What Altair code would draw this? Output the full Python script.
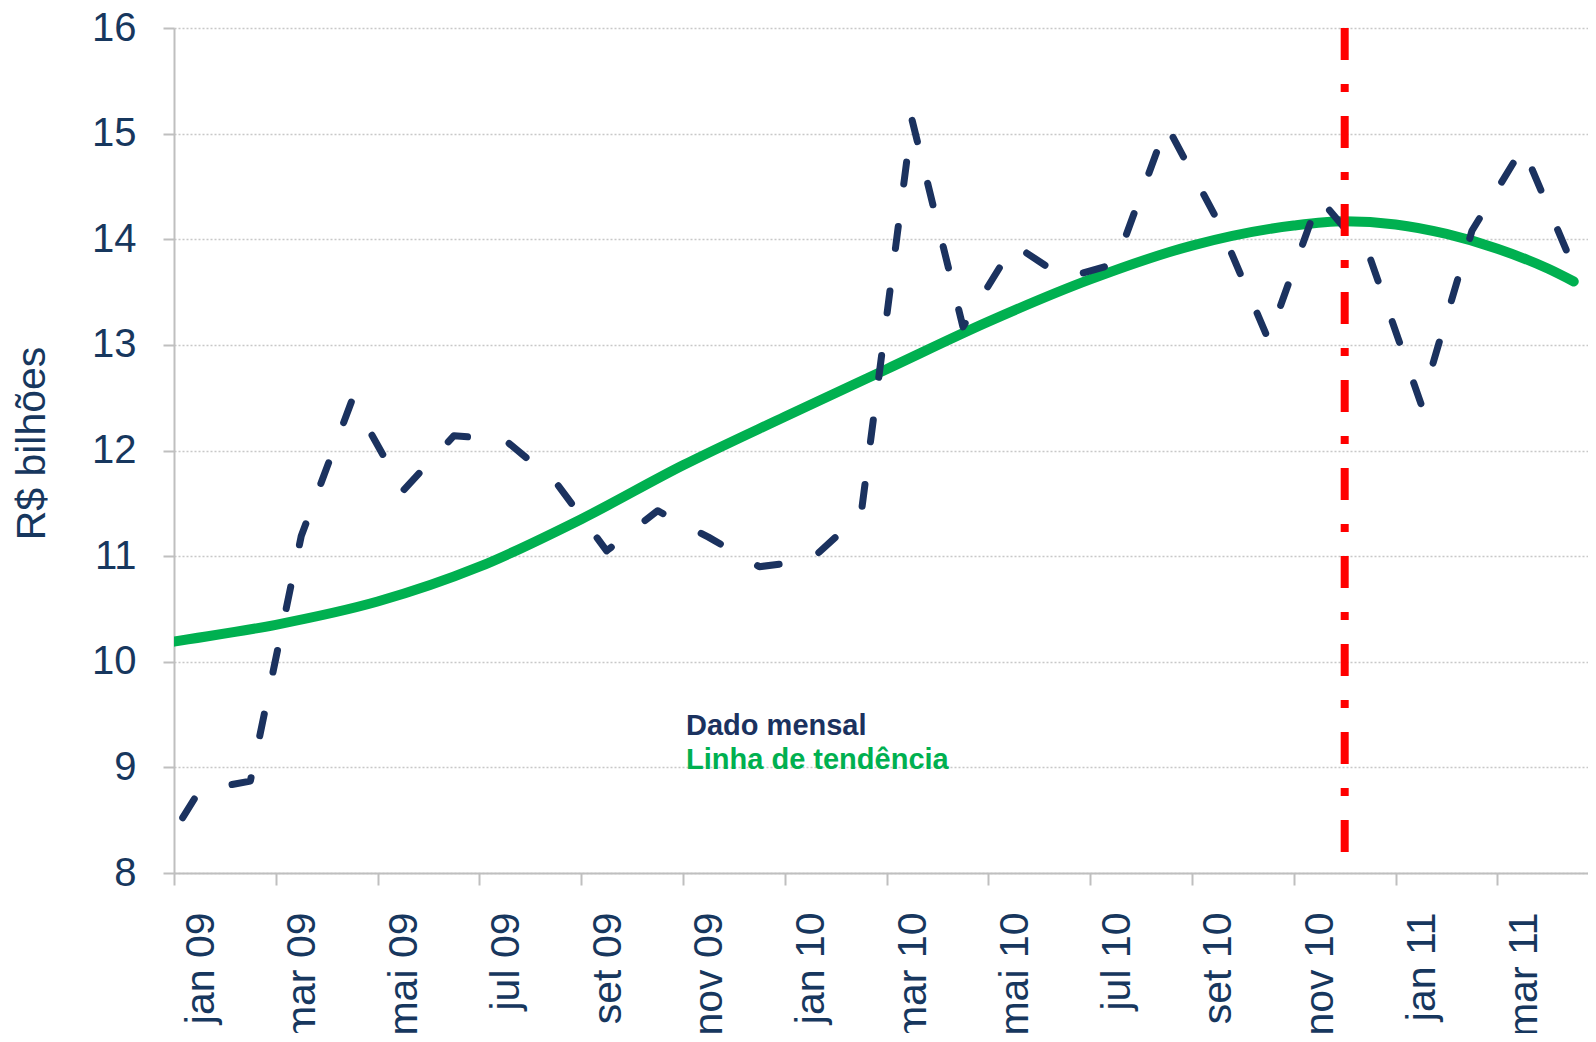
import json
import altair as alt
import pandas as pd

# ---------------- data ----------------
# Monthly series (dez 08 lies just left of the axis and is clipped, as in the original)
months = ["dez 08", "jan 09", "fev 09", "mar 09", "abr 09", "mai 09", "jun 09", "jul 09",
          "ago 09", "set 09", "out 09", "nov 09", "dez 09", "jan 10", "fev 10", "mar 10",
          "abr 10", "mai 10", "jun 10", "jul 10", "ago 10", "set 10", "out 10", "nov 10",
          "dez 10", "jan 11", "fev 11", "mar 11", "abr 11"]
monthly = [8.00, 8.78, 8.87, 11.19, 12.48, 11.62, 12.14, 12.10,
           11.70, 11.05, 11.43, 11.18, 10.90, 10.96, 11.40, 15.13,
           13.17, 13.95, 13.63, 13.77, 15.08, 14.18, 13.05, 14.39,
           13.82, 12.44, 14.08, 14.87, 13.73]

# Trend line read at several positions (months counted from 1 Jan 2009)
trend_t = [-0.5, 0, 2, 4, 6, 8, 10, 12, 14, 16, 18, 20, 22, 23, 24, 25, 26, 27, 27.5]
trend_v = [10.15, 10.19, 10.35, 10.57, 10.90, 11.35, 11.86, 12.32, 12.77, 13.22,
           13.62, 13.94, 14.13, 14.17, 14.14, 14.05, 13.91, 13.72, 13.60]

tick_labels = ["jan 09", "mar 09", "mai 09", "jul 09", "set 09", "nov 09", "jan 10",
               "mar 10", "mai 10", "jul 10", "set 10", "nov 10", "jan 11", "mar 11"]
y_ticks = [8, 9, 10, 11, 12, 13, 14, 15, 16]

marker_month = 23          # start of dez 10
legend_labels = ["Dado mensal", "Linha de tendência"]
legend_t = [10.06, 10.06]
legend_v = [9.31, 8.98]

NAVY = "#1B325F"
TEXT = "#17375E"
GREEN = "#00B050"
RED = "#FF0000"
GRAY = "#BFBFBF"
FONT = "Liberation Sans"

# ---------------- tables ----------------
df_month = pd.DataFrame({"t": [i - 0.5 for i in range(len(months))],
                         "v": monthly, "m": months})
df_trend = pd.DataFrame({"t": trend_t, "v": trend_v})
df_rule = pd.DataFrame({"t": [marker_month], "v": [16], "v2": [8]})
df_leg = pd.DataFrame({"t": legend_t, "v": legend_v, "txt": legend_labels,
                       "c": [NAVY, GREEN]})

label_expr = json.dumps(tick_labels) + "[round(datum.value / 2)]"

x_axis = alt.Axis(values=[2 * i for i in range(len(tick_labels))], labelExpr=label_expr,
                  labelAngle=270, labelAlign="right", labelBaseline="middle",
                  labelOffset=27, labelPadding=27, labelFontSize=41, labelFont=FONT,
                  labelColor=TEXT, labelOverlap=False, labelFlush=False,
                  tickSize=12, tickWidth=2, tickColor=GRAY,
                  domainColor=GRAY, domainWidth=2, grid=False)
y_axis = alt.Axis(values=y_ticks, labelFontSize=40, labelFont=FONT, labelColor=TEXT,
                  labelPadding=27, labelOverlap=False, labelFlush=False,
                  tickSize=11, tickWidth=2, tickColor=GRAY,
                  domainColor=GRAY, domainWidth=2,
                  grid=True, gridColor="#C8C8C8", gridDash=[2, 2], gridWidth=1.5,
                  title="R$ bilhões", titleFontSize=41, titleFont=FONT,
                  titleFontWeight="normal", titleColor=TEXT, titleAngle=270,
                  titleAlign="center", titleBaseline="middle", titleX=-142, titleY=415)

xs = alt.Scale(domain=[0, 27.78], nice=False, zero=False)
ys = alt.Scale(domain=[8, 16], nice=False, zero=False)

X = alt.X("t:Q", scale=xs, axis=x_axis, title=None)
Y = alt.Y("v:Q", scale=ys, axis=y_axis)

trend = alt.Chart(df_trend).mark_line(
    color=GREEN, strokeWidth=10, strokeCap="round", interpolate="monotone", clip=True
).encode(x=X, y=Y)

line = alt.Chart(df_month).mark_line(
    color=NAVY, strokeWidth=7, strokeCap="round", strokeJoin="round",
    strokeDash=[22, 43], clip=True
).encode(x=X, y=Y, order="t:Q")

rule = alt.Chart(df_rule).mark_rule(
    color=RED, strokeWidth=8, strokeDash=[32, 24, 8, 24], strokeCap="butt"
).encode(x=X, y=Y, y2="v2:Q")

legend = alt.Chart(df_leg).mark_text(
    align="left", baseline="alphabetic", fontSize=29, fontWeight="bold", font=FONT
).encode(x=X, y=Y, text="txt:N", color=alt.Color("c:N", scale=None))

chart = alt.layer(trend, line, rule, legend).properties(
    width=1414, height=845,
    padding={"left": 166, "top": 20, "right": 0, "bottom": 160},
    autosize=alt.AutoSizeParams(type="none"),
    background="white",
).configure_view(stroke=None)

chart.save("out.html", embed_options={"renderer": "svg", "actions": False})
